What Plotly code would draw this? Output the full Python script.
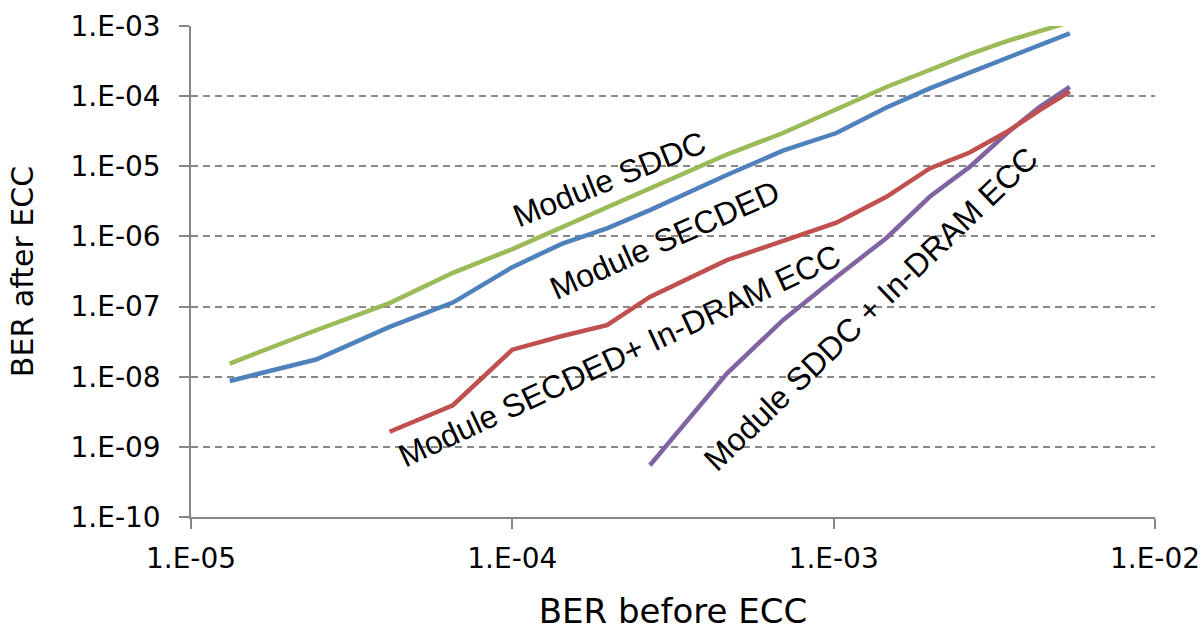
import plotly.graph_objects as go

# BER before ECC (x) sample points
x_all = [1.32e-5, 2.45e-5, 4.15e-5, 6.53e-5, 1.0e-4, 1.43e-4, 1.97e-4, 2.68e-4,
         4.65e-4, 6.95e-4, 1.02e-3, 1.46e-3, 1.99e-3, 2.65e-3, 3.46e-3, 4.38e-3, 5.43e-3]

# BER after ECC for each scheme
y_sddc = [1.54e-8, 4.6e-8, 1.12e-7, 3.03e-7, 6.6e-7, 1.36e-6, 2.57e-6, 4.73e-6,
          1.47e-5, 2.98e-5, 6.55e-5, 1.35e-4, 2.36e-4, 3.98e-4, 6.1e-4, 8.5e-4, 1.14e-3]
y_secded = [8.7e-9, 1.76e-8, 5.13e-8, 1.14e-7, 3.65e-7, 7.9e-7, 1.3e-6, 2.37e-6,
            7.5e-6, 1.67e-5, 2.98e-5, 6.9e-5, 1.29e-4, 2.16e-4, 3.5e-4, 5.36e-4, 7.87e-4]
x_secded_indram = x_all[2:]
y_secded_indram = [1.64e-9, 3.92e-9, 2.43e-8, 3.8e-8, 5.43e-8, 1.37e-7,
                   4.59e-7, 8.6e-7, 1.57e-6, 3.67e-6, 9.33e-6, 1.57e-5, 3.1e-5, 6.34e-5, 1.16e-4]
x_sddc_indram = x_all[7:]
y_sddc_indram = [5.47e-10, 1.11e-8, 6.4e-8, 2.65e-7, 9.5e-7, 3.67e-6, 9.8e-6,
                 2.95e-5, 7.06e-5, 1.36e-4]

x_ticks = [1e-5, 1e-4, 1e-3, 1e-2]
x_ticktext = ["1.E-05", "1.E-04", "1.E-03", "1.E-02"]
y_ticks = [1e-10, 1e-9, 1e-8, 1e-7, 1e-6, 1e-5, 1e-4, 1e-3]
y_ticktext = ["1.E-10", "1.E-09", "1.E-08", "1.E-07", "1.E-06", "1.E-05", "1.E-04", "1.E-03"]

labels = ["Module SDDC", "Module SECDED", "Module SECDED+ In-DRAM ECC", "Module SDDC + In-DRAM ECC"]
label_pos_x = [-3.697, -3.526, -3.668, -2.885]
label_pos_y = [-5.18, -6.05, -7.70, -7.03]
label_angle = [-22, -24, -25, -44]

GREEN = "#9BBB59"
BLUE = "#4F81BD"
RED = "#C0504D"
PURPLE = "#8064A2"

fig = go.Figure()
fig.add_trace(go.Scatter(x=x_all, y=y_secded, mode="lines", line=dict(color=BLUE, width=4.5), name=labels[1]))
fig.add_trace(go.Scatter(x=x_all, y=y_sddc, mode="lines", line=dict(color=GREEN, width=4.5), name=labels[0]))
fig.add_trace(go.Scatter(x=x_sddc_indram, y=y_sddc_indram, mode="lines", line=dict(color=PURPLE, width=4.5), name=labels[3]))
fig.add_trace(go.Scatter(x=x_secded_indram, y=y_secded_indram, mode="lines", line=dict(color=RED, width=4.5), name=labels[2]))

for t, ax, ay, ang in zip(labels, label_pos_x, label_pos_y, label_angle):
    fig.add_annotation(x=ax, y=ay, xref="x", yref="y", text=t, textangle=ang, showarrow=False,
                       font=dict(family="Liberation Sans, Arial", size=32, color="#000000"))

axis_font = dict(family="DejaVu Sans", size=28, color="#000000")
fig.update_layout(
    width=1203, height=631,
    margin=dict(l=191, r=48, t=26, b=114, autoexpand=False),
    paper_bgcolor="white", plot_bgcolor="white",
    showlegend=False,
    xaxis=dict(type="log", range=[-5, -2], tickvals=x_ticks, ticktext=x_ticktext, automargin=False,
               showgrid=False, zeroline=False, showline=True, linecolor="#868686", linewidth=1.5,
               ticks="outside", ticklen=10, tickwidth=1.5, tickcolor="#868686",
               tickfont=axis_font, ticklabelstandoff=6, ticklabeloverflow="allow",
               title=dict(text="BER before ECC", font=dict(family="DejaVu Sans", size=34, color="#000000"),
                          standoff=36)),
    yaxis=dict(type="log", range=[-10, -3], tickvals=y_ticks, ticktext=y_ticktext, automargin=False,
               showgrid=True, gridcolor="#888888", gridwidth=1.6, griddash="7px,5px",
               zeroline=False, showline=True, linecolor="#868686", linewidth=1.5,
               ticks="outside", ticklen=10, tickwidth=1.5, tickcolor="#868686",
               tickfont=axis_font, ticklabelstandoff=13, ticklabeloverflow="allow",
               title=dict(text="BER after ECC", font=dict(family="DejaVu Sans", size=30, color="#000000"),
                          standoff=28)),
)

fig.write_html("out.html", config={"displayModeBar": False},
               post_script="document.body.style.margin='0';document.body.style.overflow='hidden';")
